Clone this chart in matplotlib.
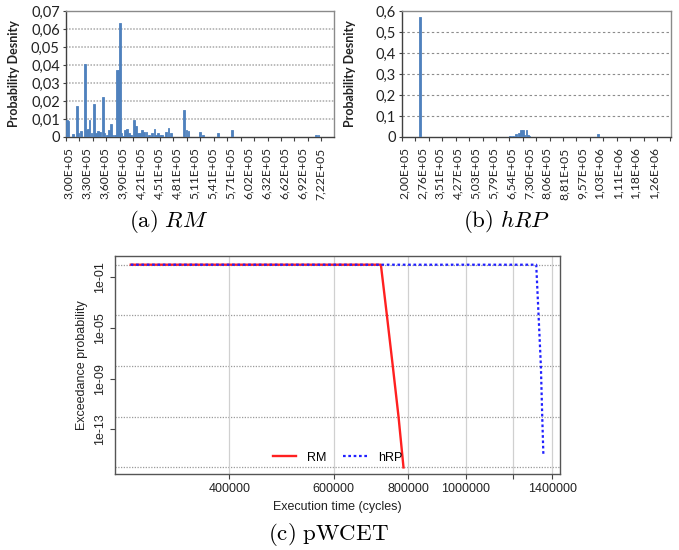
import matplotlib
matplotlib.use("Agg")
import matplotlib.pyplot as plt
import numpy as np
from matplotlib.ticker import FixedLocator, FuncFormatter, NullLocator

plt.rcParams['mathtext.fontset'] = 'cm'

# ---------------- data ----------------
# (a) RM execution-time histogram
rm_time = [297800, 300300, 307900, 314100, 316200, 321800, 328500, 330500, 333000,
           335500, 338900, 343600, 346400, 349700, 353100, 358100, 360600, 364800,
           368200, 371000, 373200, 378200, 382100, 384000, 386100, 388300, 391600,
           395000, 398300, 401700, 405000, 410000, 413400, 416700, 420100, 422900,
           426800, 431000, 435200, 440200, 444400, 446900, 450700, 453600, 456900,
           463600, 467800, 472000, 494300, 498000, 501300, 520600, 525100, 550200,
           573700, 714900, 719100]
rm_density = [0.0095, 0.009, 0.0015, 0.0172, 0.002, 0.0033, 0.0404, 0.004, 0.0045,
              0.0095, 0.002, 0.0182, 0.002, 0.0033, 0.003, 0.022, 0.002, 0.001,
              0.004, 0.0072, 0.001, 0.001, 0.0372, 0.0372, 0.0632, 0.002, 0.0005,
              0.004, 0.0044, 0.002, 0.001, 0.0095, 0.0063, 0.002, 0.002, 0.0041,
              0.003, 0.003, 0.001, 0.002, 0.0043, 0.001, 0.0022, 0.001, 0.001,
              0.003, 0.005, 0.002, 0.0152, 0.004, 0.0035, 0.003, 0.001, 0.0022,
              0.004, 0.0012, 0.0012]
rm_labels = ["3,00E+05", "3,30E+05", "3,60E+05", "3,90E+05", "4,21E+05", "4,51E+05",
             "4,81E+05", "5,11E+05", "5,41E+05", "5,71E+05", "6,02E+05", "6,32E+05",
             "6,62E+05", "6,92E+05", "7,22E+05"]

# (b) hRP execution-time histogram
hrp_time = [267200, 649400, 662000, 674600, 687200, 697700, 706100, 712400, 720800,
            727100, 733400, 1024500]
hrp_density = [0.57, 0.004, 0.007, 0.012, 0.02, 0.031, 0.031, 0.01, 0.033,
               0.01, 0.003, 0.013]
hrp_labels = ["2,00E+05", "2,76E+05", "3,51E+05", "4,27E+05", "5,03E+05", "5,79E+05",
              "6,54E+05", "7,30E+05", "8,06E+05", "8,81E+05", "9,57E+05", "1,03E+06",
              "1,11E+06", "1,18E+06", "1,26E+06"]

# (c) pWCET exceedance curves
rm_pwcet_time = [273000, 720000, 737000, 754000, 771000, 786000]
rm_pwcet_prob = [1, 1, 1e-4, 1e-8, 1e-12, 1e-16]
hrp_pwcet_time = [273000, 1315000, 1327000, 1339000, 1346000, 1352000]
hrp_pwcet_prob = [1, 1, 1e-4, 1e-8, 1e-12, 1e-15]

pw_xticks = [400000, 600000, 800000, 1000000, 1200000, 1400000]
pw_xlabels = ["400000", "600000", "800000", "1000000", "", "1400000"]
pw_yticks = [1e-1, 1e-5, 1e-9, 1e-13]
pw_ylabels = ["1e-01", "1e-05", "1e-09", "1e-13"]
pw_ygrid = [1e0, 1e-4, 1e-8, 1e-12, 1e-16]

# ---------------- figure ----------------
W, H = 679, 550
fig = plt.figure(figsize=(W / 100, H / 100), dpi=100)


def axes_px(x0, y0, x1, y1):
    return fig.add_axes([x0 / W, 1 - y1 / H, (x1 - x0) / W, (y1 - y0) / H])


EXCEL_FONT = ['Lato', 'DejaVu Sans']
BLUE = '#4F81BD'


def excel_panel(ax, t, d, labels, xlim, ymax, ystep, ydec, barw, gridls, gridcol, gridlw, ylabx):
    ax.bar(t, d, width=barw, color=BLUE, edgecolor=BLUE, lw=0.6, zorder=3)
    ax.set_xlim(xlim)
    ax.set_ylim(0, ymax)
    yt = np.arange(0, ymax + ystep / 2, ystep)
    ax.set_yticks(yt)
    ax.yaxis.set_major_formatter(FuncFormatter(
        lambda v, _: '0' if abs(v) < 1e-12 else f"{v:.{ydec}f}".replace('.', ',')))
    for y in yt[1:-1]:
        ax.axhline(y, color=gridcol, lw=gridlw, ls=gridls, zorder=1)
    pos = [float(s.replace(',', '.')) for s in labels]
    ax.xaxis.set_major_locator(FixedLocator(pos))
    ax.set_xticklabels(labels, rotation=90, fontfamily=EXCEL_FONT, fontsize=8.7, color='#222222')
    step = 0.75 * (pos[1] - pos[0])
    ax.xaxis.set_minor_locator(FixedLocator(np.arange(xlim[0], xlim[1], step)))
    ax.tick_params(axis='x', which='major', length=0, pad=7.5)
    ax.tick_params(axis='x', which='minor', length=3, width=0.8, color='#404040', direction='out')
    ax.tick_params(axis='y', length=2.5, width=0.8, color='#404040', pad=2,
                   labelsize=10.5, labelcolor='#222222')
    for lbl in ax.get_yticklabels():
        lbl.set_fontfamily(EXCEL_FONT)
    for s in ('left', 'bottom'):
        ax.spines[s].set_color('#404040')
        ax.spines[s].set_linewidth(1.0)
    for s in ('top', 'right'):
        ax.spines[s].set_color('#8a8a8a')
        ax.spines[s].set_linewidth(1.0)
    ax.set_ylabel('Probability Desnity', fontfamily=EXCEL_FONT, fontweight='bold',
                  fontsize=9, color='#222222')
    ax.yaxis.set_label_coords(ylabx, 0.5)


# (a) RM
ax_a = axes_px(66, 11, 334, 137)
excel_panel(ax_a, rm_time, rm_density, rm_labels, (296150, 745000), 0.07, 0.01, 2,
            3000, (0, (1, 1)), '#a8a8a8', 1.1, -0.17)

# (b) hRP
ax_b = axes_px(402, 11, 671, 137)
excel_panel(ax_b, hrp_time, hrp_density, hrp_labels, (191500, 1334000), 0.6, 0.1, 1,
            7000, (0, (2.2, 2.2)), '#8c8c8c', 0.8, -0.172)

cap_kw = dict(ha='center', va='center', fontsize=16.5)
fig.text(169 / W, 1 - 222 / H, r"$\mathrm{(a)}\ RM$", **cap_kw)
fig.text(507 / W, 1 - 222 / H, r"$\mathrm{(b)}\ hRP$", **cap_kw)
fig.text(328 / W, 1 - 535 / H, r"$\mathrm{(c)}\ \mathrm{pWCET}$", **cap_kw)

# (c) pWCET
R_FONT = ['Liberation Sans', 'DejaVu Sans']
ax_c = axes_px(115, 256, 560, 474)
ax_c.set_xscale('log')
ax_c.set_yscale('log')
ax_c.set_xlim(256800, 1442000)
ax_c.set_ylim(10 ** -16.52, 10 ** 0.687)
for y in pw_ygrid:
    ax_c.axhline(y, color='#9a9a9a', lw=0.9, ls=(0, (1, 1.2)), zorder=1)
for x in pw_xticks:
    ax_c.axvline(x, color='#d0d0d0', lw=0.9, ls='-', zorder=1)
ax_c.plot(rm_pwcet_time, rm_pwcet_prob, color='#ff2020', lw=1.7, label='RM', zorder=3)
ax_c.plot(hrp_pwcet_time, hrp_pwcet_prob, color='#2020ff', lw=1.6, ls=(0, (1.2, 1.2)),
          label='hRP', zorder=3)
ax_c.xaxis.set_major_locator(FixedLocator(pw_xticks))
ax_c.xaxis.set_minor_locator(NullLocator())
ax_c.set_xticklabels(pw_xlabels, fontfamily=R_FONT, fontsize=9)
ax_c.yaxis.set_major_locator(FixedLocator(pw_yticks))
ax_c.yaxis.set_minor_locator(NullLocator())
ax_c.set_yticklabels(pw_ylabels, fontfamily=R_FONT, fontsize=9, rotation=90, va='center')
ax_c.tick_params(axis='both', length=3.5, width=0.8, color='#444444', pad=3, labelcolor='#222222')
for s in ax_c.spines.values():
    s.set_color('#555555')
    s.set_linewidth(1.0)
ax_c.set_xlabel('Execution time (cycles)', fontfamily=R_FONT, fontsize=9, color='#222222')
ax_c.set_ylabel('Exceedance probability', fontfamily=R_FONT, fontsize=9, color='#222222')
ax_c.xaxis.set_label_coords(0.5, -0.122)
ax_c.yaxis.set_label_coords(-0.06, 0.5)
leg = ax_c.legend(loc='lower center', bbox_to_anchor=(0.5, -0.005), ncol=2, frameon=False,
                  prop={'family': R_FONT, 'size': 9}, handlelength=1.9,
                  handletextpad=0.9, columnspacing=1.3)

fig.savefig('out.png', dpi=100)
